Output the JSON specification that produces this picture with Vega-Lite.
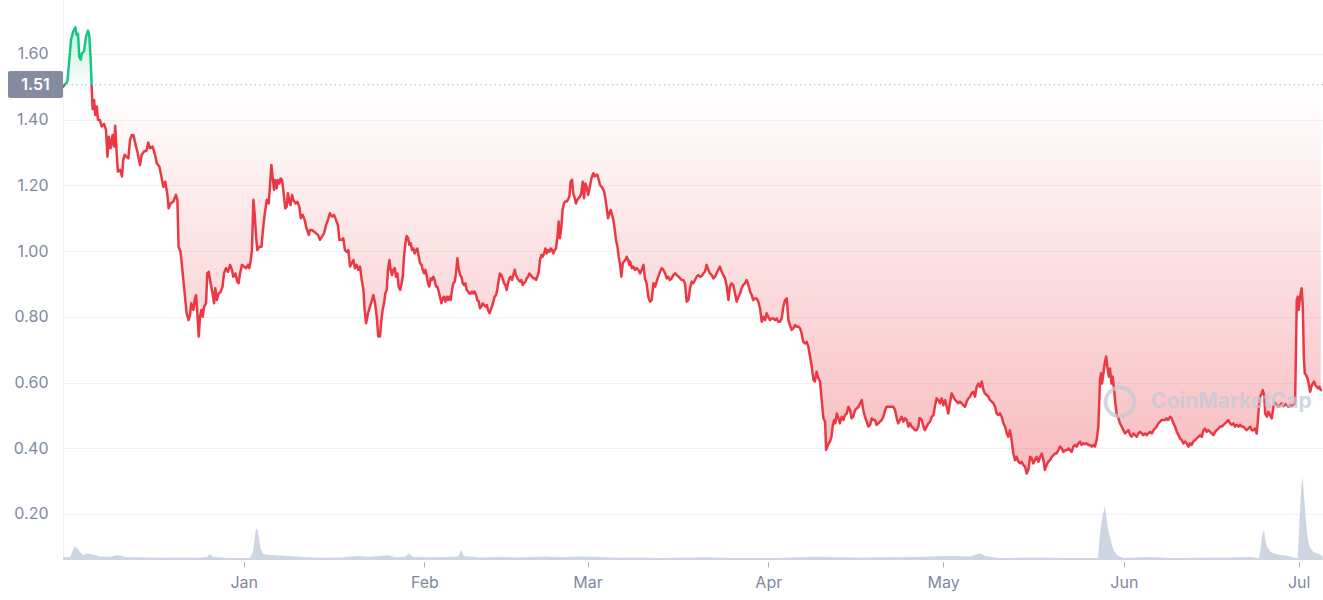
{
"$schema":"https://vega.github.io/schema/vega-lite/v6.json",
"width":1260,"height":560,
"autosize":{"type":"none"},
"padding":{"left":63,"top":0,"right":0,"bottom":40},
"background":"white",
"config":{"view":{"stroke":null},"font":"Inter"},
"datasets":{
"price":[
{"t":"2021-12-01T00:00","p":1.500},{"t":"2021-12-01T18:00","p":1.516},{"t":"2021-12-02T02:00","p":1.582},{"t":"2021-12-02T09:00","p":1.643},{"t":"2021-12-02T18:00","p":1.668},{"t":"2021-12-03T03:00","p":1.681},{"t":"2021-12-03T08:00","p":1.658},{"t":"2021-12-03T14:00","p":1.661},{"t":"2021-12-03T19:00","p":1.592},{"t":"2021-12-04T01:00","p":1.582},{"t":"2021-12-04T06:00","p":1.602},{"t":"2021-12-04T14:00","p":1.607},{"t":"2021-12-04T23:00","p":1.653},{"t":"2021-12-05T07:00","p":1.671},{"t":"2021-12-05T12:00","p":1.658},{"t":"2021-12-05T18:00","p":1.582},{"t":"2021-12-05T22:00","p":1.500},{"t":"2021-12-06T02:00","p":1.432},{"t":"2021-12-06T08:00","p":1.460},{"t":"2021-12-06T13:00","p":1.414},{"t":"2021-12-06T19:00","p":1.440},{"t":"2021-12-07T00:00","p":1.399},{"t":"2021-12-07T08:00","p":1.399},{"t":"2021-12-07T15:00","p":1.379},{"t":"2021-12-08T01:00","p":1.387},{"t":"2021-12-08T09:00","p":1.369},{"t":"2021-12-08T15:00","p":1.287},{"t":"2021-12-08T21:00","p":1.348},{"t":"2021-12-09T04:00","p":1.313},{"t":"2021-12-09T12:00","p":1.353},{"t":"2021-12-09T18:00","p":1.318},{"t":"2021-12-09T23:00","p":1.381},{"t":"2021-12-10T05:00","p":1.298},{"t":"2021-12-10T10:00","p":1.242},{"t":"2021-12-10T19:00","p":1.247},{"t":"2021-12-11T03:00","p":1.227},{"t":"2021-12-11T08:00","p":1.277},{"t":"2021-12-11T14:00","p":1.293},{"t":"2021-12-11T22:00","p":1.287},{"t":"2021-12-12T05:00","p":1.282},{"t":"2021-12-12T12:00","p":1.338},{"t":"2021-12-12T19:00","p":1.353},{"t":"2021-12-13T02:00","p":1.353},{"t":"2021-12-13T08:00","p":1.333},{"t":"2021-12-13T18:00","p":1.303},{"t":"2021-12-14T05:00","p":1.262},{"t":"2021-12-14T12:00","p":1.293},{"t":"2021-12-14T22:00","p":1.303},{"t":"2021-12-15T08:00","p":1.306},{"t":"2021-12-15T15:00","p":1.330},{"t":"2021-12-15T22:00","p":1.313},{"t":"2021-12-16T09:00","p":1.318},{"t":"2021-12-16T19:00","p":1.293},{"t":"2021-12-17T02:00","p":1.267},{"t":"2021-12-17T13:00","p":1.257},{"t":"2021-12-17T21:00","p":1.227},{"t":"2021-12-18T05:00","p":1.196},{"t":"2021-12-18T13:00","p":1.211},{"t":"2021-12-18T22:00","p":1.171},{"t":"2021-12-19T03:00","p":1.130},{"t":"2021-12-19T11:00","p":1.145},{"t":"2021-12-19T22:00","p":1.150},{"t":"2021-12-20T09:00","p":1.171},{"t":"2021-12-20T15:00","p":1.156},{"t":"2021-12-20T20:00","p":1.013},{"t":"2021-12-21T04:00","p":0.998},{"t":"2021-12-21T13:00","p":0.932},{"t":"2021-12-21T21:00","p":0.871},{"t":"2021-12-22T05:00","p":0.811},{"t":"2021-12-22T13:00","p":0.790},{"t":"2021-12-22T19:00","p":0.805},{"t":"2021-12-23T00:00","p":0.841},{"t":"2021-12-23T09:00","p":0.821},{"t":"2021-12-23T14:00","p":0.851},{"t":"2021-12-23T20:00","p":0.866},{"t":"2021-12-24T01:00","p":0.811},{"t":"2021-12-24T07:00","p":0.740},{"t":"2021-12-24T12:00","p":0.800},{"t":"2021-12-24T18:00","p":0.821},{"t":"2021-12-24T23:00","p":0.800},{"t":"2021-12-25T05:00","p":0.831},{"t":"2021-12-25T13:00","p":0.841},{"t":"2021-12-25T18:00","p":0.932},{"t":"2021-12-26T00:00","p":0.937},{"t":"2021-12-26T08:00","p":0.902},{"t":"2021-12-26T16:00","p":0.871},{"t":"2021-12-26T22:00","p":0.841},{"t":"2021-12-27T03:00","p":0.887},{"t":"2021-12-27T09:00","p":0.851},{"t":"2021-12-27T17:00","p":0.871},{"t":"2021-12-28T01:00","p":0.876},{"t":"2021-12-28T09:00","p":0.892},{"t":"2021-12-28T15:00","p":0.932},{"t":"2021-12-28T23:00","p":0.948},{"t":"2021-12-29T07:00","p":0.937},{"t":"2021-12-29T16:00","p":0.958},{"t":"2021-12-30T00:00","p":0.942},{"t":"2021-12-30T05:00","p":0.922},{"t":"2021-12-30T14:00","p":0.932},{"t":"2021-12-30T22:00","p":0.907},{"t":"2021-12-31T03:00","p":0.902},{"t":"2021-12-31T09:00","p":0.932},{"t":"2021-12-31T17:00","p":0.958},{"t":"2022-01-01T01:00","p":0.953},{"t":"2022-01-01T10:00","p":0.948},{"t":"2022-01-01T18:00","p":0.958},{"t":"2022-01-01T23:00","p":0.948},{"t":"2022-01-02T05:00","p":0.973},{"t":"2022-01-02T10:00","p":1.003},{"t":"2022-01-02T16:00","p":1.156},{"t":"2022-01-02T21:00","p":1.115},{"t":"2022-01-03T03:00","p":1.044},{"t":"2022-01-03T08:00","p":1.003},{"t":"2022-01-03T16:00","p":1.013},{"t":"2022-01-04T01:00","p":1.013},{"t":"2022-01-04T06:00","p":1.054},{"t":"2022-01-04T14:00","p":1.110},{"t":"2022-01-04T23:00","p":1.156},{"t":"2022-01-05T07:00","p":1.145},{"t":"2022-01-05T12:00","p":1.196},{"t":"2022-01-05T18:00","p":1.262},{"t":"2022-01-05T23:00","p":1.227},{"t":"2022-01-06T05:00","p":1.186},{"t":"2022-01-06T10:00","p":1.216},{"t":"2022-01-06T16:00","p":1.191},{"t":"2022-01-06T21:00","p":1.216},{"t":"2022-01-07T03:00","p":1.206},{"t":"2022-01-07T08:00","p":1.221},{"t":"2022-01-07T14:00","p":1.216},{"t":"2022-01-07T19:00","p":1.186},{"t":"2022-01-08T03:00","p":1.130},{"t":"2022-01-08T09:00","p":1.135},{"t":"2022-01-08T14:00","p":1.176},{"t":"2022-01-08T20:00","p":1.150},{"t":"2022-01-09T01:00","p":1.140},{"t":"2022-01-09T07:00","p":1.171},{"t":"2022-01-09T12:00","p":1.156},{"t":"2022-01-09T21:00","p":1.145},{"t":"2022-01-10T05:00","p":1.150},{"t":"2022-01-10T13:00","p":1.135},{"t":"2022-01-10T19:00","p":1.100},{"t":"2022-01-11T03:00","p":1.110},{"t":"2022-01-11T11:00","p":1.095},{"t":"2022-01-11T19:00","p":1.069},{"t":"2022-01-12T04:00","p":1.049},{"t":"2022-01-12T09:00","p":1.064},{"t":"2022-01-12T17:00","p":1.064},{"t":"2022-01-13T02:00","p":1.059},{"t":"2022-01-13T10:00","p":1.054},{"t":"2022-01-13T18:00","p":1.049},{"t":"2022-01-14T02:00","p":1.034},{"t":"2022-01-14T10:00","p":1.044},{"t":"2022-01-14T19:00","p":1.054},{"t":"2022-01-15T03:00","p":1.079},{"t":"2022-01-15T11:00","p":1.095},{"t":"2022-01-15T19:00","p":1.115},{"t":"2022-01-16T04:00","p":1.105},{"t":"2022-01-16T12:00","p":1.110},{"t":"2022-01-16T20:00","p":1.095},{"t":"2022-01-17T04:00","p":1.079},{"t":"2022-01-17T10:00","p":1.034},
{"t":"2022-01-17T19:00","p":1.034},{"t":"2022-01-18T02:00","p":1.039},{"t":"2022-01-18T09:00","p":1.003},{"t":"2022-01-18T16:00","p":0.998},{"t":"2022-01-18T23:00","p":1.003},{"t":"2022-01-19T06:00","p":0.953},{"t":"2022-01-19T13:00","p":0.963},{"t":"2022-01-19T20:00","p":0.973},{"t":"2022-01-20T02:00","p":0.948},{"t":"2022-01-20T09:00","p":0.958},{"t":"2022-01-20T16:00","p":0.943},{"t":"2022-01-20T23:00","p":0.953},{"t":"2022-01-21T06:00","p":0.912},{"t":"2022-01-21T13:00","p":0.882},{"t":"2022-01-21T18:00","p":0.821},{"t":"2022-01-22T00:00","p":0.780},{"t":"2022-01-22T08:00","p":0.811},{"t":"2022-01-22T16:00","p":0.831},{"t":"2022-01-23T00:00","p":0.851},{"t":"2022-01-23T06:00","p":0.866},{"t":"2022-01-23T13:00","p":0.841},{"t":"2022-01-23T20:00","p":0.800},{"t":"2022-01-24T02:00","p":0.740},{"t":"2022-01-24T09:00","p":0.740},{"t":"2022-01-24T15:00","p":0.790},{"t":"2022-01-24T20:00","p":0.821},{"t":"2022-01-25T02:00","p":0.841},{"t":"2022-01-25T07:00","p":0.871},{"t":"2022-01-25T13:00","p":0.882},{"t":"2022-01-25T18:00","p":0.943},{"t":"2022-01-26T00:00","p":0.973},{"t":"2022-01-26T05:00","p":0.943},{"t":"2022-01-26T11:00","p":0.927},{"t":"2022-01-26T16:00","p":0.943},{"t":"2022-01-26T22:00","p":0.948},{"t":"2022-01-27T03:00","p":0.922},{"t":"2022-01-27T09:00","p":0.932},{"t":"2022-01-27T14:00","p":0.892},{"t":"2022-01-27T20:00","p":0.882},{"t":"2022-01-28T01:00","p":0.897},{"t":"2022-01-28T07:00","p":0.922},{"t":"2022-01-28T12:00","p":0.983},{"t":"2022-01-28T18:00","p":1.024},{"t":"2022-01-28T23:00","p":1.046},{"t":"2022-01-29T05:00","p":1.039},{"t":"2022-01-29T10:00","p":1.019},{"t":"2022-01-29T16:00","p":1.024},{"t":"2022-01-29T21:00","p":1.003},{"t":"2022-01-30T03:00","p":1.008},{"t":"2022-01-30T08:00","p":0.993},{"t":"2022-01-30T14:00","p":1.003},{"t":"2022-01-30T19:00","p":1.008},{"t":"2022-01-31T01:00","p":0.983},{"t":"2022-01-31T06:00","p":0.963},{"t":"2022-01-31T12:00","p":0.958},{"t":"2022-01-31T17:00","p":0.943},{"t":"2022-01-31T23:00","p":0.932},{"t":"2022-02-01T04:00","p":0.943},{"t":"2022-02-01T09:00","p":0.927},{"t":"2022-02-01T15:00","p":0.902},{"t":"2022-02-01T20:00","p":0.892},{"t":"2022-02-02T02:00","p":0.917},{"t":"2022-02-02T07:00","p":0.912},{"t":"2022-02-02T13:00","p":0.922},{"t":"2022-02-02T18:00","p":0.912},{"t":"2022-02-03T00:00","p":0.892},{"t":"2022-02-03T05:00","p":0.892},{"t":"2022-02-03T11:00","p":0.877},{"t":"2022-02-03T16:00","p":0.861},{"t":"2022-02-03T22:00","p":0.841},{"t":"2022-02-04T03:00","p":0.856},{"t":"2022-02-04T09:00","p":0.861},{"t":"2022-02-04T14:00","p":0.846},{"t":"2022-02-04T20:00","p":0.861},{"t":"2022-02-05T01:00","p":0.851},{"t":"2022-02-05T07:00","p":0.861},{"t":"2022-02-05T12:00","p":0.851},{"t":"2022-02-05T18:00","p":0.882},{"t":"2022-02-05T23:00","p":0.902},{"t":"2022-02-06T05:00","p":0.907},{"t":"2022-02-06T10:00","p":0.932},{"t":"2022-02-06T16:00","p":0.978},{"t":"2022-02-06T21:00","p":0.948},{"t":"2022-02-07T03:00","p":0.927},{"t":"2022-02-07T08:00","p":0.922},{"t":"2022-02-07T14:00","p":0.902},{"t":"2022-02-07T19:00","p":0.897},{"t":"2022-02-08T01:00","p":0.902},{"t":"2022-02-08T06:00","p":0.882},{"t":"2022-02-08T12:00","p":0.877},{"t":"2022-02-08T17:00","p":0.871},{"t":"2022-02-08T23:00","p":0.871},{"t":"2022-02-09T04:00","p":0.877},{"t":"2022-02-09T10:00","p":0.871},{"t":"2022-02-09T15:00","p":0.877},{"t":"2022-02-09T21:00","p":0.866},{"t":"2022-02-10T02:00","p":0.851},{"t":"2022-02-10T08:00","p":0.846},{"t":"2022-02-10T13:00","p":0.826},{"t":"2022-02-10T19:00","p":0.831},{"t":"2022-02-11T00:00","p":0.841},{"t":"2022-02-11T06:00","p":0.836},{"t":"2022-02-11T11:00","p":0.831},{"t":"2022-02-11T17:00","p":0.836},{"t":"2022-02-11T22:00","p":0.821},{"t":"2022-02-12T04:00","p":0.811},{"t":"2022-02-12T09:00","p":0.821},{"t":"2022-02-12T14:00","p":0.831},{"t":"2022-02-12T20:00","p":0.846},{"t":"2022-02-13T01:00","p":0.861},{"t":"2022-02-13T07:00","p":0.866},{"t":"2022-02-13T12:00","p":0.882},{"t":"2022-02-13T18:00","p":0.912},{"t":"2022-02-13T23:00","p":0.932},{"t":"2022-02-14T05:00","p":0.927},{"t":"2022-02-14T10:00","p":0.917},{"t":"2022-02-14T16:00","p":0.902},{"t":"2022-02-14T21:00","p":0.897},{"t":"2022-02-15T03:00","p":0.882},{"t":"2022-02-15T08:00","p":0.902},{"t":"2022-02-15T14:00","p":0.917},{"t":"2022-02-15T19:00","p":0.922},{"t":"2022-02-16T01:00","p":0.912},{"t":"2022-02-16T06:00","p":0.927},{"t":"2022-02-16T12:00","p":0.943},{"t":"2022-02-16T17:00","p":0.927},{"t":"2022-02-16T23:00","p":0.917},{"t":"2022-02-17T04:00","p":0.912},{"t":"2022-02-17T10:00","p":0.907},{"t":"2022-02-17T15:00","p":0.912},{"t":"2022-02-17T21:00","p":0.897},{"t":"2022-02-18T02:00","p":0.902},{"t":"2022-02-18T08:00","p":0.907},{"t":"2022-02-18T13:00","p":0.917},{"t":"2022-02-18T19:00","p":0.922},{"t":"2022-02-19T00:00","p":0.932},{"t":"2022-02-19T06:00","p":0.927},{"t":"2022-02-19T11:00","p":0.922},{"t":"2022-02-19T17:00","p":0.917},{"t":"2022-02-19T22:00","p":0.917},{"t":"2022-02-20T04:00","p":0.912},{"t":"2022-02-20T09:00","p":0.922},{"t":"2022-02-20T15:00","p":0.937},{"t":"2022-02-20T20:00","p":0.973},{"t":"2022-02-21T02:00","p":0.988},{"t":"2022-02-21T07:00","p":0.983},{"t":"2022-02-21T13:00","p":0.993},{"t":"2022-02-21T18:00","p":1.008},{"t":"2022-02-22T00:00","p":0.993},{"t":"2022-02-22T05:00","p":1.003},{"t":"2022-02-22T11:00","p":0.998},{"t":"2022-02-22T16:00","p":1.008},{"t":"2022-02-22T22:00","p":1.003},{"t":"2022-02-23T03:00","p":0.993},{"t":"2022-02-23T09:00","p":1.003},{"t":"2022-02-23T14:00","p":1.008},{"t":"2022-02-23T20:00","p":1.044},{"t":"2022-02-24T01:00","p":1.090},{"t":"2022-02-24T06:00","p":1.039},{"t":"2022-02-24T12:00","p":1.074},{"t":"2022-02-24T17:00","p":1.125},{"t":"2022-02-24T23:00","p":1.145},{"t":"2022-02-25T04:00","p":1.151},{"t":"2022-02-25T10:00","p":1.151},{"t":"2022-02-25T15:00","p":1.156},{"t":"2022-02-25T21:00","p":1.166},{"t":"2022-02-26T02:00","p":1.211},{"t":"2022-02-26T08:00","p":1.217},{"t":"2022-02-26T13:00","p":1.176},{"t":"2022-02-26T19:00","p":1.161},{"t":"2022-02-27T00:00","p":1.145},{"t":"2022-02-27T06:00","p":1.156},{"t":"2022-02-27T11:00","p":1.161},{"t":"2022-02-27T17:00","p":1.166},{"t":"2022-02-27T22:00","p":1.176},{"t":"2022-02-28T04:00","p":1.211},{"t":"2022-02-28T09:00","p":1.161},{"t":"2022-02-28T15:00","p":1.206},{"t":"2022-02-28T20:00","p":1.196},{"t":"2022-03-01T02:00","p":1.171},{"t":"2022-03-01T07:00","p":1.186},{"t":"2022-03-01T13:00","p":1.211},{"t":"2022-03-01T18:00","p":1.227},{"t":"2022-03-02T00:00","p":1.237},{"t":"2022-03-02T05:00","p":1.227},{"t":"2022-03-02T11:00","p":1.232},{"t":"2022-03-02T16:00","p":1.232},{"t":"2022-03-02T22:00","p":1.217},{"t":"2022-03-03T03:00","p":1.201},{"t":"2022-03-03T09:00","p":1.196},{"t":"2022-03-03T14:00","p":1.191},{"t":"2022-03-03T20:00","p":1.181},{"t":"2022-03-04T01:00","p":1.161},{"t":"2022-03-04T07:00","p":1.130},{"t":"2022-03-04T12:00","p":1.100},{"t":"2022-03-04T18:00","p":1.115},{"t":"2022-03-04T23:00","p":1.125},{"t":"2022-03-05T05:00","p":1.110},{"t":"2022-03-05T10:00","p":1.095},{"t":"2022-03-05T16:00","p":1.064},{"t":"2022-03-05T21:00","p":1.034},{"t":"2022-03-06T03:00","p":1.013},{"t":"2022-03-06T08:00","p":0.983},{"t":"2022-03-06T14:00","p":0.958},{"t":"2022-03-06T19:00","p":0.922},{"t":"2022-03-07T01:00","p":0.963},{"t":"2022-03-07T06:00","p":0.968},{"t":"2022-03-07T12:00","p":0.973},{"t":"2022-03-07T17:00","p":0.983},{"t":"2022-03-07T23:00","p":0.973},{"t":"2022-03-08T04:00","p":0.958},
{"t":"2022-03-08T07:00","p":0.968},{"t":"2022-03-08T14:00","p":0.948},{"t":"2022-03-08T20:00","p":0.953},{"t":"2022-03-09T03:00","p":0.943},{"t":"2022-03-09T10:00","p":0.948},{"t":"2022-03-09T17:00","p":0.943},{"t":"2022-03-10T00:00","p":0.932},{"t":"2022-03-10T07:00","p":0.943},{"t":"2022-03-10T14:00","p":0.958},{"t":"2022-03-10T20:00","p":0.917},{"t":"2022-03-11T03:00","p":0.902},{"t":"2022-03-11T10:00","p":0.861},{"t":"2022-03-11T17:00","p":0.846},{"t":"2022-03-12T00:00","p":0.851},{"t":"2022-03-12T07:00","p":0.902},{"t":"2022-03-12T14:00","p":0.892},{"t":"2022-03-12T20:00","p":0.907},{"t":"2022-03-13T03:00","p":0.922},{"t":"2022-03-13T10:00","p":0.937},{"t":"2022-03-13T17:00","p":0.948},{"t":"2022-03-14T00:00","p":0.943},{"t":"2022-03-14T07:00","p":0.932},{"t":"2022-03-14T14:00","p":0.917},{"t":"2022-03-14T20:00","p":0.922},{"t":"2022-03-15T03:00","p":0.912},{"t":"2022-03-15T10:00","p":0.917},{"t":"2022-03-15T17:00","p":0.927},{"t":"2022-03-16T00:00","p":0.932},{"t":"2022-03-16T07:00","p":0.927},{"t":"2022-03-16T14:00","p":0.922},{"t":"2022-03-16T21:00","p":0.917},{"t":"2022-03-17T03:00","p":0.912},{"t":"2022-03-17T10:00","p":0.912},{"t":"2022-03-17T17:00","p":0.902},{"t":"2022-03-18T00:00","p":0.846},{"t":"2022-03-18T07:00","p":0.851},{"t":"2022-03-18T14:00","p":0.887},{"t":"2022-03-18T21:00","p":0.907},{"t":"2022-03-19T03:00","p":0.902},{"t":"2022-03-19T10:00","p":0.912},{"t":"2022-03-19T17:00","p":0.922},{"t":"2022-03-20T00:00","p":0.927},{"t":"2022-03-20T07:00","p":0.922},{"t":"2022-03-20T14:00","p":0.924},{"t":"2022-03-20T21:00","p":0.932},{"t":"2022-03-21T03:00","p":0.937},{"t":"2022-03-21T10:00","p":0.958},{"t":"2022-03-21T17:00","p":0.943},{"t":"2022-03-22T00:00","p":0.932},{"t":"2022-03-22T07:00","p":0.927},{"t":"2022-03-22T14:00","p":0.917},{"t":"2022-03-22T21:00","p":0.922},{"t":"2022-03-23T03:00","p":0.932},{"t":"2022-03-23T10:00","p":0.943},{"t":"2022-03-23T17:00","p":0.953},{"t":"2022-03-24T00:00","p":0.937},{"t":"2022-03-24T07:00","p":0.927},{"t":"2022-03-24T14:00","p":0.917},{"t":"2022-03-24T21:00","p":0.892},{"t":"2022-03-25T04:00","p":0.851},{"t":"2022-03-25T10:00","p":0.892},{"t":"2022-03-25T17:00","p":0.902},{"t":"2022-03-26T00:00","p":0.897},{"t":"2022-03-26T07:00","p":0.871},{"t":"2022-03-26T14:00","p":0.846},{"t":"2022-03-26T21:00","p":0.861},{"t":"2022-03-27T04:00","p":0.871},{"t":"2022-03-27T10:00","p":0.887},{"t":"2022-03-27T17:00","p":0.897},{"t":"2022-03-28T00:00","p":0.902},{"t":"2022-03-28T07:00","p":0.912},{"t":"2022-03-28T14:00","p":0.897},{"t":"2022-03-28T21:00","p":0.877},{"t":"2022-03-29T04:00","p":0.866},{"t":"2022-03-29T10:00","p":0.851},{"t":"2022-03-29T17:00","p":0.856},{"t":"2022-03-30T00:00","p":0.856},{"t":"2022-03-30T07:00","p":0.846},{"t":"2022-03-30T14:00","p":0.826},{"t":"2022-03-30T21:00","p":0.785},{"t":"2022-03-31T04:00","p":0.800},{"t":"2022-03-31T11:00","p":0.790},{"t":"2022-03-31T17:00","p":0.811},{"t":"2022-04-01T00:00","p":0.800},{"t":"2022-04-01T07:00","p":0.790},{"t":"2022-04-01T14:00","p":0.795},{"t":"2022-04-01T21:00","p":0.795},{"t":"2022-04-02T04:00","p":0.790},{"t":"2022-04-02T11:00","p":0.795},{"t":"2022-04-02T17:00","p":0.785},{"t":"2022-04-03T00:00","p":0.785},{"t":"2022-04-03T07:00","p":0.795},{"t":"2022-04-03T14:00","p":0.831},{"t":"2022-04-03T21:00","p":0.851},{"t":"2022-04-04T04:00","p":0.856},{"t":"2022-04-04T11:00","p":0.790},{"t":"2022-04-04T17:00","p":0.775},{"t":"2022-04-05T00:00","p":0.760},{"t":"2022-04-05T07:00","p":0.765},{"t":"2022-04-05T14:00","p":0.775},{"t":"2022-04-05T21:00","p":0.770},{"t":"2022-04-06T04:00","p":0.770},{"t":"2022-04-06T11:00","p":0.765},{"t":"2022-04-06T17:00","p":0.750},{"t":"2022-04-07T00:00","p":0.724},{"t":"2022-04-07T07:00","p":0.719},{"t":"2022-04-07T14:00","p":0.724},{"t":"2022-04-07T21:00","p":0.709},{"t":"2022-04-08T04:00","p":0.679},{"t":"2022-04-08T11:00","p":0.648},{"t":"2022-04-08T18:00","p":0.608},{"t":"2022-04-09T00:00","p":0.603},{"t":"2022-04-09T07:00","p":0.633},{"t":"2022-04-09T14:00","p":0.613},{"t":"2022-04-09T21:00","p":0.603},{"t":"2022-04-10T04:00","p":0.547},{"t":"2022-04-10T11:00","p":0.491},{"t":"2022-04-10T18:00","p":0.481},{"t":"2022-04-10T22:00","p":0.395},{"t":"2022-04-11T03:00","p":0.405},{"t":"2022-04-11T09:00","p":0.415},{"t":"2022-04-11T14:00","p":0.420},{"t":"2022-04-11T20:00","p":0.435},{"t":"2022-04-12T01:00","p":0.466},{"t":"2022-04-12T07:00","p":0.486},{"t":"2022-04-12T12:00","p":0.476},{"t":"2022-04-12T18:00","p":0.506},{"t":"2022-04-13T01:00","p":0.491},{"t":"2022-04-13T07:00","p":0.476},{"t":"2022-04-13T14:00","p":0.496},{"t":"2022-04-13T21:00","p":0.486},{"t":"2022-04-14T04:00","p":0.501},{"t":"2022-04-14T11:00","p":0.506},{"t":"2022-04-14T18:00","p":0.526},{"t":"2022-04-15T01:00","p":0.516},{"t":"2022-04-15T07:00","p":0.491},{"t":"2022-04-15T14:00","p":0.496},{"t":"2022-04-15T21:00","p":0.516},{"t":"2022-04-16T04:00","p":0.521},{"t":"2022-04-16T11:00","p":0.526},{"t":"2022-04-16T18:00","p":0.537},{"t":"2022-04-17T01:00","p":0.547},{"t":"2022-04-17T07:00","p":0.516},{"t":"2022-04-17T14:00","p":0.496},{"t":"2022-04-17T21:00","p":0.481},{"t":"2022-04-18T04:00","p":0.466},{"t":"2022-04-18T11:00","p":0.471},{"t":"2022-04-18T18:00","p":0.491},{"t":"2022-04-19T01:00","p":0.486},{"t":"2022-04-19T08:00","p":0.486},{"t":"2022-04-19T14:00","p":0.471},{"t":"2022-04-19T21:00","p":0.476},{"t":"2022-04-20T04:00","p":0.481},{"t":"2022-04-20T11:00","p":0.486},{"t":"2022-04-20T18:00","p":0.496},{"t":"2022-04-21T01:00","p":0.516},{"t":"2022-04-21T07:00","p":0.526},{"t":"2022-04-21T14:00","p":0.526},{"t":"2022-04-21T21:00","p":0.526},{"t":"2022-04-22T04:00","p":0.526},{"t":"2022-04-22T11:00","p":0.526},{"t":"2022-04-22T18:00","p":0.516},{"t":"2022-04-23T01:00","p":0.491},{"t":"2022-04-23T07:00","p":0.476},{"t":"2022-04-23T14:00","p":0.486},{"t":"2022-04-23T21:00","p":0.496},{"t":"2022-04-24T04:00","p":0.481},{"t":"2022-04-24T11:00","p":0.491},{"t":"2022-04-24T18:00","p":0.486},{"t":"2022-04-25T01:00","p":0.466},{"t":"2022-04-25T08:00","p":0.476},{"t":"2022-04-25T14:00","p":0.466},{"t":"2022-04-25T21:00","p":0.461},{"t":"2022-04-26T04:00","p":0.455},{"t":"2022-04-26T11:00","p":0.455},{"t":"2022-04-26T18:00","p":0.466},{"t":"2022-04-26T22:00","p":0.491},
{"t":"2022-04-27T01:00","p":0.491},{"t":"2022-04-27T08:00","p":0.486},{"t":"2022-04-27T15:00","p":0.466},{"t":"2022-04-27T21:00","p":0.455},{"t":"2022-04-28T04:00","p":0.466},{"t":"2022-04-28T11:00","p":0.476},{"t":"2022-04-28T18:00","p":0.481},{"t":"2022-04-29T01:00","p":0.496},{"t":"2022-04-29T08:00","p":0.501},{"t":"2022-04-29T15:00","p":0.531},{"t":"2022-04-29T21:00","p":0.552},{"t":"2022-04-30T04:00","p":0.547},{"t":"2022-04-30T11:00","p":0.537},{"t":"2022-04-30T18:00","p":0.552},{"t":"2022-05-01T01:00","p":0.531},{"t":"2022-05-01T08:00","p":0.547},{"t":"2022-05-01T15:00","p":0.526},{"t":"2022-05-01T21:00","p":0.506},{"t":"2022-05-02T04:00","p":0.537},{"t":"2022-05-02T11:00","p":0.567},{"t":"2022-05-02T18:00","p":0.557},{"t":"2022-05-03T01:00","p":0.547},{"t":"2022-05-03T08:00","p":0.542},{"t":"2022-05-03T15:00","p":0.537},{"t":"2022-05-03T21:00","p":0.542},{"t":"2022-05-04T04:00","p":0.537},{"t":"2022-05-04T11:00","p":0.531},{"t":"2022-05-04T18:00","p":0.526},{"t":"2022-05-05T01:00","p":0.542},{"t":"2022-05-05T08:00","p":0.552},{"t":"2022-05-05T15:00","p":0.557},{"t":"2022-05-05T21:00","p":0.567},{"t":"2022-05-06T04:00","p":0.572},{"t":"2022-05-06T11:00","p":0.557},{"t":"2022-05-06T18:00","p":0.587},{"t":"2022-05-07T01:00","p":0.597},{"t":"2022-05-07T08:00","p":0.587},{"t":"2022-05-07T15:00","p":0.603},{"t":"2022-05-07T22:00","p":0.577},{"t":"2022-05-08T04:00","p":0.567},{"t":"2022-05-08T11:00","p":0.562},{"t":"2022-05-08T18:00","p":0.557},{"t":"2022-05-09T01:00","p":0.547},{"t":"2022-05-09T08:00","p":0.542},{"t":"2022-05-09T15:00","p":0.537},{"t":"2022-05-09T22:00","p":0.526},{"t":"2022-05-10T04:00","p":0.506},{"t":"2022-05-10T11:00","p":0.501},{"t":"2022-05-10T18:00","p":0.506},{"t":"2022-05-11T01:00","p":0.496},{"t":"2022-05-11T08:00","p":0.476},{"t":"2022-05-11T15:00","p":0.466},{"t":"2022-05-11T22:00","p":0.445},{"t":"2022-05-12T04:00","p":0.435},{"t":"2022-05-12T11:00","p":0.455},{"t":"2022-05-12T18:00","p":0.425},{"t":"2022-05-13T01:00","p":0.384},{"t":"2022-05-13T08:00","p":0.364},{"t":"2022-05-13T15:00","p":0.374},{"t":"2022-05-13T22:00","p":0.359},{"t":"2022-05-14T05:00","p":0.354},{"t":"2022-05-14T11:00","p":0.359},{"t":"2022-05-14T18:00","p":0.349},{"t":"2022-05-15T01:00","p":0.344},{"t":"2022-05-15T08:00","p":0.323},{"t":"2022-05-15T15:00","p":0.334},{"t":"2022-05-15T22:00","p":0.374},{"t":"2022-05-16T05:00","p":0.369},{"t":"2022-05-16T11:00","p":0.354},{"t":"2022-05-16T18:00","p":0.364},{"t":"2022-05-17T01:00","p":0.374},{"t":"2022-05-17T08:00","p":0.359},{"t":"2022-05-17T15:00","p":0.374},{"t":"2022-05-17T22:00","p":0.384},{"t":"2022-05-18T05:00","p":0.364},{"t":"2022-05-18T11:00","p":0.334},{"t":"2022-05-18T18:00","p":0.349},{"t":"2022-05-19T01:00","p":0.359},{"t":"2022-05-19T08:00","p":0.364},{"t":"2022-05-19T15:00","p":0.374},{"t":"2022-05-19T22:00","p":0.379},{"t":"2022-05-20T05:00","p":0.384},{"t":"2022-05-20T11:00","p":0.384},{"t":"2022-05-20T18:00","p":0.394},{"t":"2022-05-21T01:00","p":0.405},{"t":"2022-05-21T08:00","p":0.400},{"t":"2022-05-21T15:00","p":0.389},{"t":"2022-05-21T22:00","p":0.394},{"t":"2022-05-22T05:00","p":0.394},{"t":"2022-05-22T12:00","p":0.400},{"t":"2022-05-22T18:00","p":0.394},{"t":"2022-05-23T01:00","p":0.389},{"t":"2022-05-23T08:00","p":0.405},{"t":"2022-05-23T15:00","p":0.410},{"t":"2022-05-23T22:00","p":0.405},{"t":"2022-05-24T05:00","p":0.415},{"t":"2022-05-24T12:00","p":0.420},{"t":"2022-05-24T18:00","p":0.410},{"t":"2022-05-25T01:00","p":0.415},{"t":"2022-05-25T08:00","p":0.413},{"t":"2022-05-25T15:00","p":0.415},{"t":"2022-05-25T22:00","p":0.410},{"t":"2022-05-26T05:00","p":0.410},{"t":"2022-05-26T12:00","p":0.405},{"t":"2022-05-26T18:00","p":0.410},{"t":"2022-05-27T01:00","p":0.405},{"t":"2022-05-27T08:00","p":0.425},{"t":"2022-05-27T15:00","p":0.466},{"t":"2022-05-27T22:00","p":0.608},{"t":"2022-05-28T02:00","p":0.628},{"t":"2022-05-28T06:00","p":0.597},{"t":"2022-05-28T12:00","p":0.628},{"t":"2022-05-28T17:00","p":0.658},{"t":"2022-05-28T23:00","p":0.679},{"t":"2022-05-29T04:00","p":0.648},{"t":"2022-05-29T10:00","p":0.618},{"t":"2022-05-29T15:00","p":0.643},{"t":"2022-05-29T21:00","p":0.597},{"t":"2022-05-30T02:00","p":0.618},{"t":"2022-05-30T08:00","p":0.577},{"t":"2022-05-30T13:00","p":0.537},{"t":"2022-05-30T19:00","p":0.501},{"t":"2022-05-31T02:00","p":0.491},{"t":"2022-05-31T08:00","p":0.476},{"t":"2022-05-31T15:00","p":0.466},{"t":"2022-05-31T22:00","p":0.455},{"t":"2022-06-01T05:00","p":0.445},{"t":"2022-06-01T12:00","p":0.450},{"t":"2022-06-01T19:00","p":0.455},{"t":"2022-06-02T02:00","p":0.440},{"t":"2022-06-02T08:00","p":0.435},{"t":"2022-06-02T15:00","p":0.445},{"t":"2022-06-02T22:00","p":0.440},{"t":"2022-06-03T05:00","p":0.435},{"t":"2022-06-03T12:00","p":0.445},{"t":"2022-06-03T19:00","p":0.450},{"t":"2022-06-04T02:00","p":0.445},{"t":"2022-06-04T08:00","p":0.440},{"t":"2022-06-04T15:00","p":0.445},{"t":"2022-06-04T22:00","p":0.440},{"t":"2022-06-05T05:00","p":0.445},{"t":"2022-06-05T12:00","p":0.450},{"t":"2022-06-05T19:00","p":0.445},{"t":"2022-06-06T02:00","p":0.455},{"t":"2022-06-06T08:00","p":0.460},{"t":"2022-06-06T15:00","p":0.466},{"t":"2022-06-06T22:00","p":0.476},{"t":"2022-06-07T05:00","p":0.481},{"t":"2022-06-07T12:00","p":0.486},{"t":"2022-06-07T19:00","p":0.486},{"t":"2022-06-08T02:00","p":0.486},{"t":"2022-06-08T08:00","p":0.491},{"t":"2022-06-08T15:00","p":0.486},{"t":"2022-06-08T22:00","p":0.496},{"t":"2022-06-09T05:00","p":0.491},{"t":"2022-06-09T12:00","p":0.476},{"t":"2022-06-09T19:00","p":0.466},{"t":"2022-06-10T02:00","p":0.450},{"t":"2022-06-10T09:00","p":0.440},{"t":"2022-06-10T15:00","p":0.430},{"t":"2022-06-10T22:00","p":0.425},{"t":"2022-06-11T05:00","p":0.415},{"t":"2022-06-11T12:00","p":0.420},{"t":"2022-06-11T19:00","p":0.415},{"t":"2022-06-12T02:00","p":0.405},{"t":"2022-06-12T09:00","p":0.415},{"t":"2022-06-12T15:00","p":0.410},{"t":"2022-06-12T22:00","p":0.420},{"t":"2022-06-13T05:00","p":0.425},{"t":"2022-06-13T12:00","p":0.430},{"t":"2022-06-13T19:00","p":0.435},{"t":"2022-06-14T02:00","p":0.440},{"t":"2022-06-14T09:00","p":0.435},{"t":"2022-06-14T16:00","p":0.455},{"t":"2022-06-14T22:00","p":0.460},{"t":"2022-06-15T05:00","p":0.450},{"t":"2022-06-15T12:00","p":0.455},{"t":"2022-06-15T19:00","p":0.450},{"t":"2022-06-16T02:00","p":0.445},{"t":"2022-06-16T09:00","p":0.440},{"t":"2022-06-16T16:00","p":0.450},{"t":"2022-06-16T22:00","p":0.455},{"t":"2022-06-17T05:00","p":0.460},{"t":"2022-06-17T12:00","p":0.466},{"t":"2022-06-17T19:00","p":0.466},{"t":"2022-06-18T02:00","p":0.471},{"t":"2022-06-18T09:00","p":0.476},{"t":"2022-06-18T16:00","p":0.481},{"t":"2022-06-18T22:00","p":0.486},{"t":"2022-06-19T05:00","p":0.476},{"t":"2022-06-19T12:00","p":0.471},{"t":"2022-06-19T19:00","p":0.476},{"t":"2022-06-20T02:00","p":0.466},{"t":"2022-06-20T09:00","p":0.471},{"t":"2022-06-20T16:00","p":0.466},{"t":"2022-06-20T23:00","p":0.471},{"t":"2022-06-21T05:00","p":0.466},{"t":"2022-06-21T12:00","p":0.466},{"t":"2022-06-21T19:00","p":0.460},{"t":"2022-06-22T02:00","p":0.455},{"t":"2022-06-22T09:00","p":0.460},{"t":"2022-06-22T16:00","p":0.466},{"t":"2022-06-22T23:00","p":0.455},{"t":"2022-06-23T06:00","p":0.455},{"t":"2022-06-23T12:00","p":0.460},{"t":"2022-06-23T19:00","p":0.445},{"t":"2022-06-23T23:00","p":0.476},{"t":"2022-06-24T04:00","p":0.526},{"t":"2022-06-24T09:00","p":0.557},{"t":"2022-06-24T16:00","p":0.567},{"t":"2022-06-24T20:00","p":0.577},{"t":"2022-06-25T02:00","p":0.562},{"t":"2022-06-25T06:00","p":0.506},{"t":"2022-06-25T13:00","p":0.496},{"t":"2022-06-25T19:00","p":0.511},{"t":"2022-06-26T02:00","p":0.501},{"t":"2022-06-26T09:00","p":0.491},{"t":"2022-06-26T16:00","p":0.526},{"t":"2022-06-26T23:00","p":0.537},{"t":"2022-06-27T06:00","p":0.531},{"t":"2022-06-27T12:00","p":0.526},{"t":"2022-06-27T19:00","p":0.531},{"t":"2022-06-28T02:00","p":0.537},{"t":"2022-06-28T09:00","p":0.528},{"t":"2022-06-28T16:00","p":0.535},{"t":"2022-06-28T23:00","p":0.531},{"t":"2022-06-29T06:00","p":0.526},{"t":"2022-06-29T13:00","p":0.531},{"t":"2022-06-29T19:00","p":0.528},{"t":"2022-06-30T02:00","p":0.531},{"t":"2022-06-30T09:00","p":0.537},{"t":"2022-06-30T13:00","p":0.709},{"t":"2022-06-30T16:00","p":0.851},{"t":"2022-06-30T20:00","p":0.861},{"t":"2022-07-01T00:00","p":0.821},{"t":"2022-07-01T04:00","p":0.851},{"t":"2022-07-01T08:00","p":0.871},{"t":"2022-07-01T12:00","p":0.887},{"t":"2022-07-01T17:00","p":0.831},{"t":"2022-07-01T21:00","p":0.679},{"t":"2022-07-02T01:00","p":0.628},{"t":"2022-07-02T06:00","p":0.623},{"t":"2022-07-02T12:00","p":0.613},{"t":"2022-07-02T17:00","p":0.597},{"t":"2022-07-02T23:00","p":0.572},{"t":"2022-07-03T04:00","p":0.587},{"t":"2022-07-03T10:00","p":0.597},{"t":"2022-07-03T15:00","p":0.603},{"t":"2022-07-03T21:00","p":0.592},{"t":"2022-07-04T02:00","p":0.587},{"t":"2022-07-04T08:00","p":0.582},{"t":"2022-07-04T13:00","p":0.587},{"t":"2022-07-04T19:00","p":0.577}
],
"vol":[
{"t":"2021-12-01T00:00","v":3},{"t":"2021-12-02T05:00","v":3},{"t":"2021-12-02T17:00","v":10},{"t":"2021-12-03T01:00","v":14},{"t":"2021-12-03T10:00","v":12},{"t":"2021-12-03T22:00","v":8},{"t":"2021-12-04T10:00","v":5},{"t":"2021-12-05T07:00","v":6.7},{"t":"2021-12-06T04:00","v":5.5},{"t":"2021-12-07T08:00","v":3.5},{"t":"2021-12-09T02:00","v":3.3},{"t":"2021-12-10T10:00","v":5},{"t":"2021-12-11T15:00","v":3},{"t":"2021-12-14T05:00","v":2.7},{"t":"2021-12-17T15:00","v":2.3},{"t":"2021-12-21T02:00","v":2.5},{"t":"2021-12-24T12:00","v":2.3},{"t":"2021-12-25T17:00","v":3},{"t":"2021-12-26T05:00","v":6},{"t":"2021-12-26T18:00","v":3},{"t":"2021-12-29T16:00","v":2},{"t":"2022-01-02T02:00","v":2},{"t":"2022-01-02T14:00","v":8},{"t":"2022-01-02T23:00","v":25},{"t":"2022-01-03T03:00","v":31.7},{"t":"2022-01-03T09:00","v":30},{"t":"2022-01-03T15:00","v":22},{"t":"2022-01-03T21:00","v":12},{"t":"2022-01-04T08:00","v":6},{"t":"2022-01-05T12:00","v":5},{"t":"2022-01-07T02:00","v":4.5},{"t":"2022-01-10T16:00","v":3.3},{"t":"2022-01-14T02:00","v":2.3},{"t":"2022-01-17T13:00","v":2.5},{"t":"2022-01-20T11:00","v":4},{"t":"2022-01-22T16:00","v":3.3},{"t":"2022-01-25T18:00","v":4.7},{"t":"2022-01-26T23:00","v":2.7},{"t":"2022-01-28T16:00","v":3},{"t":"2022-01-29T09:00","v":6.7},{"t":"2022-01-30T01:00","v":3},{"t":"2022-02-03T16:00","v":2.7},{"t":"2022-02-06T19:00","v":3.5},{"t":"2022-02-07T07:00","v":10},{"t":"2022-02-07T19:00","v":4},{"t":"2022-02-10T13:00","v":2.5},{"t":"2022-02-13T23:00","v":3},{"t":"2022-02-17T10:00","v":2.5},{"t":"2022-02-21T17:00","v":3.5},{"t":"2022-02-24T06:00","v":2.7},{"t":"2022-02-27T17:00","v":3.5},{"t":"2022-03-03T03:00","v":3},{"t":"2022-03-06T14:00","v":2.3},{"t":"2022-03-10T00:00","v":2.5},{"t":"2022-03-13T10:00","v":2},{"t":"2022-03-18T14:00","v":2.5},{"t":"2022-03-22T00:00","v":2.7},{"t":"2022-03-25T10:00","v":2},{"t":"2022-03-28T21:00","v":2},{"t":"2022-04-02T04:00","v":2},{"t":"2022-04-06T11:00","v":2.7},{"t":"2022-04-09T09:00","v":3.3},{"t":"2022-04-12T11:00","v":2.7},{"t":"2022-04-16T18:00","v":2.5},{"t":"2022-04-21T21:00","v":2.7},{"t":"2022-04-26T04:00","v":3},{"t":"2022-04-30T19:00","v":4},{"t":"2022-05-03T01:00","v":4},{"t":"2022-05-05T15:00","v":3.5},{"t":"2022-05-07T08:00","v":6.7},{"t":"2022-05-08T04:00","v":4},{"t":"2022-05-10T18:00","v":2},{"t":"2022-05-15T22:00","v":2.5},{"t":"2022-05-19T08:00","v":2.3},{"t":"2022-05-22T18:00","v":2},{"t":"2022-05-26T05:00","v":2},{"t":"2022-05-27T14:00","v":2},{"t":"2022-05-27T20:00","v":22.7},{"t":"2022-05-28T05:00","v":39},{"t":"2022-05-28T10:00","v":46},{"t":"2022-05-28T18:00","v":54},{"t":"2022-05-29T00:00","v":43},{"t":"2022-05-29T07:00","v":31},{"t":"2022-05-29T14:00","v":24},{"t":"2022-05-29T22:00","v":16},{"t":"2022-05-30T06:00","v":9.4},{"t":"2022-05-30T23:00","v":4.3},{"t":"2022-06-01T00:00","v":2},{"t":"2022-06-05T12:00","v":3},{"t":"2022-06-08T22:00","v":2},{"t":"2022-06-14T02:00","v":2.3},{"t":"2022-06-19T05:00","v":2.5},{"t":"2022-06-22T16:00","v":3},{"t":"2022-06-24T05:00","v":2},{"t":"2022-06-24T12:00","v":12.7},{"t":"2022-06-24T17:00","v":24.4},{"t":"2022-06-25T01:00","v":30},{"t":"2022-06-25T07:00","v":19.4},{"t":"2022-06-25T14:00","v":12.7},{"t":"2022-06-26T06:00","v":7.7},{"t":"2022-06-27T15:00","v":5.3},{"t":"2022-06-29T00:00","v":4.3},{"t":"2022-06-30T09:00","v":2},{"t":"2022-06-30T20:00","v":2},{"t":"2022-07-01T03:00","v":39},{"t":"2022-07-01T10:00","v":73},{"t":"2022-07-01T16:00","v":83},{"t":"2022-07-01T22:00","v":63},{"t":"2022-07-02T06:00","v":39},{"t":"2022-07-02T12:00","v":22.7},{"t":"2022-07-02T22:00","v":12.7},{"t":"2022-07-03T13:00","v":7.7},{"t":"2022-07-04T14:00","v":6},{"t":"2022-07-05T03:00","v":3.3}
]
},
"layer":[
{
"data":{"name":"vol"},
"mark":{"type":"area","color":"#cfd6e3","opacity":1,"interpolate":"linear"},
"encoding":{
"x":{"field":"t","type":"temporal","title":null,
"scale":{"domain":[{"year":2021,"month":12,"date":1},{"year":2022,"month":7,"date":5,"hours":4}]},
"axis":{"values":[{"year":2022,"month":1,"date":1},{"year":2022,"month":2,"date":1},{"year":2022,"month":3,"date":1},{"year":2022,"month":4,"date":1},{"year":2022,"month":5,"date":1},{"year":2022,"month":6,"date":1},{"year":2022,"month":7,"date":1}],
"format":"%b","grid":false,"domain":false,"ticks":true,"tickSize":5,"offset":2,"tickColor":"#a6b0c3","labelPadding":7,"labelFontSize":16,"labelColor":"#808a9d","labelFont":"Inter","title":null}},
"y":{"field":"v","type":"quantitative","title":null,"stack":null,"scale":{"domain":[0,560],"nice":false,"zero":true},"axis":null}
}
},
{
"layer":[
{
"data":{"name":"price"},
"mark":{"type":"area","interpolate":"linear","opacity":1,
"fill":{"gradient":"linear","x1":0,"y1":0,"x2":0,"y2":1,"stops":[{"offset":0,"color":"rgba(22,199,132,0.25)"},{"offset":0.1289,"color":"rgba(22,199,132,0.02)"},{"offset":0.1289,"color":"rgba(234,57,67,0)"},{"offset":1,"color":"rgba(234,57,67,0.34)"}]}},
"encoding":{
"x":{"field":"t","type":"temporal","title":null,"scale":{"domain":[{"year":2021,"month":12,"date":1},{"year":2022,"month":7,"date":5,"hours":4}]}},
"y":{"field":"p","type":"quantitative","title":null,"scale":{"domain":[0.06,1.764],"nice":false,"zero":false},
"axis":{"orient":"left","values":[0.2,0.4,0.6,0.8,1.0,1.2,1.4,1.6],"format":".2f","grid":true,"gridColor":"#eff2f5","gridWidth":1,"domain":true,"domainColor":"#eff2f5","ticks":false,"labelPadding":15,"labelFontSize":16,"labelColor":"#808a9d","labelFont":"Inter","title":null}},
"y2":{"datum":1.506}
}
},
{
"data":{"values":[{}]},
"mark":{"type":"rule","strokeDash":[1.2,3.5],"color":"#9aa1b3","strokeWidth":1},
"encoding":{"y":{"datum":1.506,"scale":{"domain":[0.06,1.764],"nice":false,"zero":false}}}
},
{
"data":{"name":"price"},
"mark":{"type":"line","interpolate":"linear","strokeWidth":2.5,"strokeJoin":"round","strokeCap":"round",
"stroke":{"gradient":"linear","x1":0,"y1":0,"x2":0,"y2":1,"stops":[{"offset":0,"color":"#16c784"},{"offset":0.1289,"color":"#16c784"},{"offset":0.1289,"color":"#ea3943"},{"offset":1,"color":"#ea3943"}]}},
"encoding":{
"x":{"field":"t","type":"temporal","title":null,"scale":{"domain":[{"year":2021,"month":12,"date":1},{"year":2022,"month":7,"date":5,"hours":4}]}},
"y":{"field":"p","type":"quantitative","title":null,"scale":{"domain":[0.06,1.764],"nice":false,"zero":false}}
}
},
{
"data":{"values":[{}]},
"mark":{"type":"point","shape":"circle","filled":false,"size":820,"strokeWidth":4,"color":"#c3cad6","opacity":0.75},
"encoding":{
"x":{"datum":{"year":2022,"month":5,"date":31,"hours":8},"type":"temporal","scale":{"domain":[{"year":2021,"month":12,"date":1},{"year":2022,"month":7,"date":5,"hours":4}]}},
"y":{"datum":0.541,"scale":{"domain":[0.06,1.764],"nice":false,"zero":false}}
}
},
{
"data":{"values":[{}]},
"mark":{"type":"text","text":"CoinMarketCap","font":"Inter","fontSize":21,"fontWeight":700,"color":"#c3cad6","opacity":0.75,"align":"center","baseline":"middle"},
"encoding":{
"x":{"datum":{"year":2022,"month":6,"date":19,"hours":11},"type":"temporal","scale":{"domain":[{"year":2021,"month":12,"date":1},{"year":2022,"month":7,"date":5,"hours":4}]}},
"y":{"datum":0.541,"scale":{"domain":[0.06,1.764],"nice":false,"zero":false}}
}
},
{
"data":{"values":[{}]},
"mark":{"type":"rect","color":"#858ca2","cornerRadius":2},
"encoding":{
"x":{"datum":{"year":2021,"month":11,"date":21,"hours":13,"minutes":30},"type":"temporal","scale":{"domain":[{"year":2021,"month":12,"date":1},{"year":2022,"month":7,"date":5,"hours":4}]}},
"x2":{"datum":{"year":2021,"month":12,"date":1}},
"y":{"datum":1.548,"scale":{"domain":[0.06,1.764],"nice":false,"zero":false}},
"y2":{"datum":1.466}
}
},
{
"data":{"values":[{}]},
"mark":{"type":"text","text":"1.51","font":"Inter","fontSize":16,"fontWeight":600,"color":"white","align":"center","baseline":"middle"},
"encoding":{
"x":{"datum":{"year":2021,"month":11,"date":26,"hours":7},"type":"temporal","scale":{"domain":[{"year":2021,"month":12,"date":1},{"year":2022,"month":7,"date":5,"hours":4}]}},
"y":{"datum":1.506,"scale":{"domain":[0.06,1.764],"nice":false,"zero":false}}
}
}
]
}
],
"resolve":{"scale":{"y":"independent"}}
}
